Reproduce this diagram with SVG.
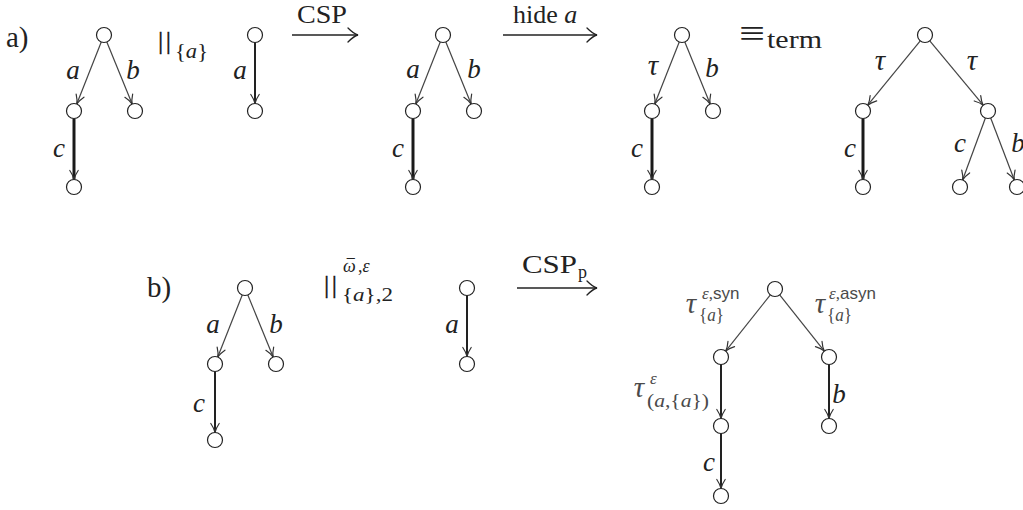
<svg xmlns="http://www.w3.org/2000/svg" width="1023" height="510" viewBox="0 0 1023 510">
<defs>
<marker id="ah" markerUnits="userSpaceOnUse" markerWidth="14" markerHeight="12" viewBox="-11 -6 13 12" refX="0" refY="0" orient="auto" overflow="visible">
<path d="M -9,-4.2 Q -4,-0.8 0,0 Q -4,0.8 -9,4.2" fill="none" stroke="#333" stroke-width="1.2" stroke-linecap="round"/>
</marker>
<marker id="big" markerUnits="userSpaceOnUse" markerWidth="16" markerHeight="18" viewBox="-13 -9 15 18" refX="0" refY="0" orient="auto" overflow="visible">
<path d="M -10,-7 Q -4,-1 0,0 Q -4,1 -10,7" fill="none" stroke="#222" stroke-width="1.3" stroke-linecap="round"/>
</marker>
</defs>
<style>
.n{fill:#fff;stroke:#222;stroke-width:1.2}
.e1{stroke:#444;stroke-width:1.2;fill:none;marker-end:url(#ah)}
.e2{stroke:#222;stroke-width:2;fill:none;marker-end:url(#ah)}
.e3{stroke:#1a1a1a;stroke-width:3;fill:none;marker-end:url(#ah)}
.ar{stroke:#222;stroke-width:1.3;fill:none;marker-end:url(#big)}
.t{font-family:"Liberation Serif",serif;fill:#222}
.l{font-family:"Liberation Serif",serif;font-style:italic;font-size:27px;fill:#222;text-anchor:middle}
.tau{font-size:29px}
.g{fill:#4a4a4a}
.i{font-style:italic}
.s{font-family:"Liberation Sans",sans-serif;font-style:normal}
.bar{font-family:"Liberation Serif",serif;font-size:26px;fill:#111;stroke:#111;stroke-width:0.4}
</style>

<g id="connectors">
<line class="e1" x1="101.25" y1="41.98" x2="76.75" y2="104.02"/>
<line class="e1" x1="106.83" y1="41.94" x2="132.17" y2="104.06"/>
<line class="e3" x1="74" y1="118.5" x2="74" y2="179.5"/>
<line class="e2" x1="255" y1="42.5" x2="255" y2="103.5"/>
<line class="e1" x1="440.25" y1="41.98" x2="415.75" y2="104.02"/>
<line class="e1" x1="445.83" y1="41.94" x2="471.17" y2="104.06"/>
<line class="e3" x1="413" y1="118.5" x2="413" y2="179.5"/>
<line class="e1" x1="679.25" y1="41.98" x2="654.75" y2="104.02"/>
<line class="e1" x1="684.83" y1="41.94" x2="710.17" y2="104.06"/>
<line class="e3" x1="652" y1="118.5" x2="652" y2="179.5"/>
<line class="e1" x1="920.26" y1="40.81" x2="867.74" y2="105.19"/>
<line class="e1" x1="929.79" y1="40.77" x2="983.21" y2="105.23"/>
<line class="e3" x1="863" y1="118.5" x2="863" y2="179.5"/>
<line class="e1" x1="985.41" y1="118.04" x2="962.59" y2="179.96"/>
<line class="e1" x1="990.67" y1="118.01" x2="1014.33" y2="179.99"/>
<line class="e1" x1="242.25" y1="294.98" x2="217.75" y2="357.02"/>
<line class="e1" x1="247.83" y1="294.94" x2="273.17" y2="357.06"/>
<line class="e2" x1="215" y1="371.5" x2="215" y2="432.5"/>
<line class="e2" x1="467" y1="295.5" x2="467" y2="356.5"/>
<line class="e1" x1="770.34" y1="294.87" x2="725.66" y2="351.13"/>
<line class="e1" x1="779.66" y1="294.87" x2="824.34" y2="351.13"/>
<line class="e2" x1="721" y1="364.5" x2="721" y2="418.5"/>
<line class="e2" x1="721" y1="433.5" x2="721" y2="488.5"/>
<line class="e2" x1="829" y1="364.5" x2="829" y2="418.5"/>
<line class="ar" x1="292" y1="35" x2="358" y2="35"/>
<line class="ar" x1="503" y1="35" x2="597" y2="35"/>
<line class="ar" x1="517" y1="288" x2="597" y2="288"/>
</g>

<g id="t1-root"><circle class="n" cx="104" cy="35" r="7.5"/></g>
<g id="t1-l"><circle class="n" cx="74" cy="111" r="7.5"/></g>
<g id="t1-r"><circle class="n" cx="135" cy="111" r="7.5"/></g>
<g id="t1-lb"><circle class="n" cx="74" cy="187" r="7.5"/></g>
<g id="t2-root"><circle class="n" cx="255" cy="35" r="7.5"/></g>
<g id="t2-c"><circle class="n" cx="255" cy="111" r="7.5"/></g>
<g id="t3-root"><circle class="n" cx="443" cy="35" r="7.5"/></g>
<g id="t3-l"><circle class="n" cx="413" cy="111" r="7.5"/></g>
<g id="t3-r"><circle class="n" cx="474" cy="111" r="7.5"/></g>
<g id="t3-lb"><circle class="n" cx="413" cy="187" r="7.5"/></g>
<g id="t4-root"><circle class="n" cx="682" cy="35" r="7.5"/></g>
<g id="t4-l"><circle class="n" cx="652" cy="111" r="7.5"/></g>
<g id="t4-r"><circle class="n" cx="713" cy="111" r="7.5"/></g>
<g id="t4-lb"><circle class="n" cx="652" cy="187" r="7.5"/></g>
<g id="t5-root"><circle class="n" cx="925" cy="35" r="7.5"/></g>
<g id="t5-l"><circle class="n" cx="863" cy="111" r="7.5"/></g>
<g id="t5-r"><circle class="n" cx="988" cy="111" r="7.5"/></g>
<g id="t5-lb"><circle class="n" cx="863" cy="187" r="7.5"/></g>
<g id="t5-rl"><circle class="n" cx="960" cy="187" r="7.5"/></g>
<g id="t5-rr"><circle class="n" cx="1017" cy="187" r="7.5"/></g>
<g id="t6-root"><circle class="n" cx="245" cy="288" r="7.5"/></g>
<g id="t6-l"><circle class="n" cx="215" cy="364" r="7.5"/></g>
<g id="t6-r"><circle class="n" cx="276" cy="364" r="7.5"/></g>
<g id="t6-lb"><circle class="n" cx="215" cy="440" r="7.5"/></g>
<g id="t7-root"><circle class="n" cx="467" cy="288" r="7.5"/></g>
<g id="t7-c"><circle class="n" cx="467" cy="364" r="7.5"/></g>
<g id="t8-root"><circle class="n" cx="775" cy="289" r="7.5"/></g>
<g id="t8-l"><circle class="n" cx="721" cy="357" r="7.5"/></g>
<g id="t8-r"><circle class="n" cx="829" cy="357" r="7.5"/></g>
<g id="t8-lm"><circle class="n" cx="721" cy="426" r="7.5"/></g>
<g id="t8-lb"><circle class="n" cx="721" cy="496" r="7.5"/></g>
<g id="t8-rb"><circle class="n" cx="829" cy="426" r="7.5"/></g>

<g id="labels">
<text class="t" x="6" y="47" font-size="29">a)</text>
<text class="l" x="73" y="79">a</text>
<text class="l" x="133" y="79">b</text>
<text class="l" x="59" y="157">c</text>
<text class="bar" x="158" y="49" letter-spacing="2.5">||</text>
<text class="t" x="175" y="58" font-size="21" textLength="33" lengthAdjust="spacingAndGlyphs">{<tspan class="i">a</tspan>}</text>
<text class="l" x="240" y="79">a</text>
<text class="t" x="297" y="23" font-size="26" textLength="50" lengthAdjust="spacingAndGlyphs">CSP</text>
<text class="l" x="413" y="78">a</text>
<text class="l" x="474" y="78">b</text>
<text class="l" x="398" y="157">c</text>
<text class="t" x="513" y="23" font-size="26">hide <tspan class="i">a</tspan></text>
<text class="l tau" x="653" y="75">τ</text>
<text class="l" x="712" y="77">b</text>
<text class="l" x="637" y="157">c</text>
<text class="t" x="739" y="46" font-size="38" textLength="26" lengthAdjust="spacingAndGlyphs">≡</text>
<text class="t" x="767" y="48" font-size="25" textLength="55" lengthAdjust="spacingAndGlyphs">term</text>
<text class="l tau" x="880" y="70">τ</text>
<text class="l tau" x="972" y="70">τ</text>
<text class="l" x="850" y="157">c</text>
<text class="l" x="960" y="152">c</text>
<text class="l" x="1018" y="152">b</text>

<text class="t" x="147" y="297" font-size="29">b)</text>
<text class="l" x="213" y="333">a</text>
<text class="l" x="276" y="333">b</text>
<text class="l" x="199" y="412">c</text>
<text class="bar" x="324" y="293" letter-spacing="2.5">||</text>
<text class="t" x="343" y="272" font-size="18"><tspan class="i">ω</tspan><tspan dx="-9" dy="-1" font-size="16">¯</tspan><tspan dx="3.3" dy="1">,</tspan><tspan class="i">ε</tspan></text>
<text class="t" x="342" y="301" font-size="19" textLength="51" lengthAdjust="spacingAndGlyphs">{<tspan class="i">a</tspan>},2</text>
<text class="l" x="452" y="333">a</text>
<text class="t" x="522" y="273" font-size="26" textLength="55" lengthAdjust="spacingAndGlyphs">CSP</text>
<text class="t" x="578" y="278" font-size="18">p</text>

<text class="l g tau" x="691" y="313">τ</text>
<text class="t g" x="702" y="299" font-size="17"><tspan class="i">ε</tspan>,<tspan class="s">syn</tspan></text>
<text class="t g" x="699" y="321" font-size="19" textLength="25" lengthAdjust="spacingAndGlyphs">{<tspan class="i">a</tspan>}</text>
<text class="l g tau" x="820" y="313">τ</text>
<text class="t g" x="829" y="299" font-size="17"><tspan class="i">ε</tspan>,<tspan class="s">asyn</tspan></text>
<text class="t g" x="827" y="321" font-size="19" textLength="25" lengthAdjust="spacingAndGlyphs">{<tspan class="i">a</tspan>}</text>
<text class="l g tau" x="639" y="397">τ</text>
<text class="t g i" x="650" y="384" font-size="17">ε</text>
<text class="t g" x="647" y="407" font-size="19" textLength="62" lengthAdjust="spacingAndGlyphs">(<tspan class="i">a</tspan>,{<tspan class="i">a</tspan>})</text>
<text class="l" x="839" y="403">b</text>
<text class="l" x="709" y="471">c</text>
</g>
</svg>
